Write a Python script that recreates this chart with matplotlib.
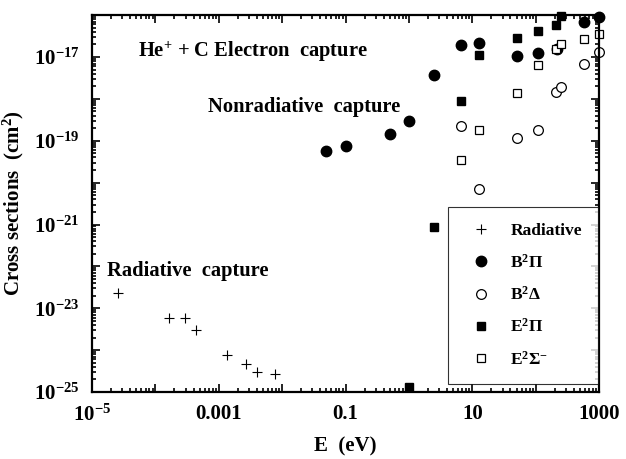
import matplotlib
matplotlib.use("Agg")
import matplotlib.pyplot as plt
import numpy as np
from matplotlib.ticker import FixedLocator, FuncFormatter, LogLocator, NullFormatter

plt.rcParams['font.family'] = ['Liberation Serif', 'DejaVu Serif']
plt.rcParams['font.weight'] = 'bold'
plt.rcParams['mathtext.fontset'] = 'custom'
plt.rcParams['mathtext.rm'] = 'Liberation Serif:bold'
plt.rcParams['mathtext.bf'] = 'Liberation Serif:bold'
plt.rcParams['mathtext.it'] = 'Liberation Serif:italic:bold'

# Data
rad_E = [2.6e-5, 1.64e-4, 2.96e-4, 4.3e-4, 1.33e-3, 2.65e-3, 3.96e-3, 7.8e-3]
rad_s = [2.37e-23, 5.9e-24, 5.7e-24, 3.1e-24, 7.7e-25, 4.7e-25, 3.04e-25, 2.7e-25]

b2pi_E = [0.05, 0.1, 0.5, 1.0, 2.5, 6.7, 12.7, 50, 110, 220, 570, 1000]
b2pi_s = [5.8e-20, 7.4e-20, 1.43e-19, 3.0e-19, 3.8e-18, 1.98e-17, 2.2e-17,
          1.06e-17, 1.23e-17, 1.59e-17, 6.7e-17, 8.8e-17]

b2delta_E = [6.7, 12.7, 50, 110, 210, 250, 570, 1000]
b2delta_s = [2.2e-19, 7e-21, 1.15e-19, 1.8e-19, 1.5e-18, 1.92e-18, 6.7e-18, 1.32e-17]

e2pi_E = [1.0, 2.45, 6.7, 12.7, 50, 110, 210, 250]
e2pi_s = [1.34e-25, 8.7e-22, 8.9e-19, 1.14e-17, 2.87e-17, 4.1e-17, 5.8e-17, 9.7e-17]

e2sig_E = [6.7, 12.7, 50, 110, 210, 250, 570, 1000]
e2sig_s = [3.5e-20, 1.85e-19, 1.38e-18, 6.3e-18, 1.53e-17, 2.0e-17, 2.65e-17, 3.6e-17]

x_major = [1e-5, 1e-4, 1e-3, 1e-2, 1e-1, 1, 10, 100, 1000]
x_labels = {1e-5: r'10$^{-5}$', 1e-3: '0.001', 1e-1: '0.1', 10: '10', 1000: '1000'}
y_labels = {-17: r'10$^{-17}$', -19: r'10$^{-19}$', -21: r'10$^{-21}$',
            -23: r'10$^{-23}$', -25: r'10$^{-25}$'}

fig = plt.figure(figsize=(6.26, 4.59), dpi=100)
ax = fig.add_axes([0.147, 0.146, 0.810, 0.821])
ax.set_xscale('log')
ax.set_yscale('log')
ax.set_xlim(1e-5, 1000)
ax.set_ylim(1e-25, 1e-16)

ax.plot(rad_E, rad_s, '+', color='black', ms=6.5, mew=0.8, label='Radiative', clip_on=False)
ax.plot(b2pi_E, b2pi_s, 'o', color='black', ms=7.5, label=r'B$^{2}$Π', clip_on=False)
ax.plot(b2delta_E, b2delta_s, 'o', mfc='white', mec='black', ms=7, mew=0.9,
        label=r'B$^{2}$Δ', clip_on=False)
ax.plot(e2pi_E, e2pi_s, 's', color='black', ms=6, label=r'E$^{2}$Π', clip_on=False)
ax.plot(e2sig_E, e2sig_s, 's', mfc='white', mec='black', ms=6, mew=0.9,
        label=r'E$^{2}$Σ$^{-}$', clip_on=False)

def xfmt(v, p):
    for k, l in x_labels.items():
        if abs(np.log10(v) - np.log10(k)) < 1e-6:
            return l
    return ''

ax.xaxis.set_major_locator(FixedLocator(x_major))
ax.xaxis.set_major_formatter(FuncFormatter(xfmt))
ax.xaxis.set_minor_locator(LogLocator(base=10, subs=np.arange(2, 10), numticks=20))
ax.xaxis.set_minor_formatter(NullFormatter())
y_major = [10.0 ** e for e in range(-25, -15)]
ax.yaxis.set_major_locator(FixedLocator(y_major))
ax.yaxis.set_major_formatter(FuncFormatter(lambda v, p: y_labels.get(int(round(np.log10(v))), '')))
ax.yaxis.set_minor_locator(LogLocator(base=10, subs=np.arange(2, 10), numticks=20))
ax.yaxis.set_minor_formatter(NullFormatter())

ax.tick_params(which='both', direction='in', top=True, right=True, width=1.2, labelsize=15)
ax.tick_params(which='major', length=6, pad=9)
ax.tick_params(which='minor', length=3)
for s in ax.spines.values():
    s.set_linewidth(1.6)

ax.set_xlabel('E  (eV)', fontsize=15, fontweight='bold', labelpad=8)
ax.set_ylabel(r'Cross sections  (cm$^{2}$)', fontsize=15, fontweight='bold', labelpad=6)

ax.text(0.091, 0.888, r'He$^{+}$ + C Electron  capture', transform=ax.transAxes,
        fontsize=14.8, fontweight='bold')
ax.text(0.229, 0.742, 'Nonradiative  capture', transform=ax.transAxes,
        fontsize=14.8, fontweight='bold')
ax.text(0.029, 0.307, 'Radiative  capture', transform=ax.transAxes,
        fontsize=14.8, fontweight='bold')

leg = ax.legend(loc='lower right', bbox_to_anchor=(0.997, 0.021), fontsize=12.5,
                frameon=True, fancybox=False, edgecolor='black', labelspacing=0.83,
                handletextpad=0.67, borderpad=0.9, handlelength=2.0, borderaxespad=0)
leg.get_frame().set_linewidth(0.8)
for t in leg.get_texts():
    t.set_fontweight('bold')

fig.savefig('out.png', dpi=100)
